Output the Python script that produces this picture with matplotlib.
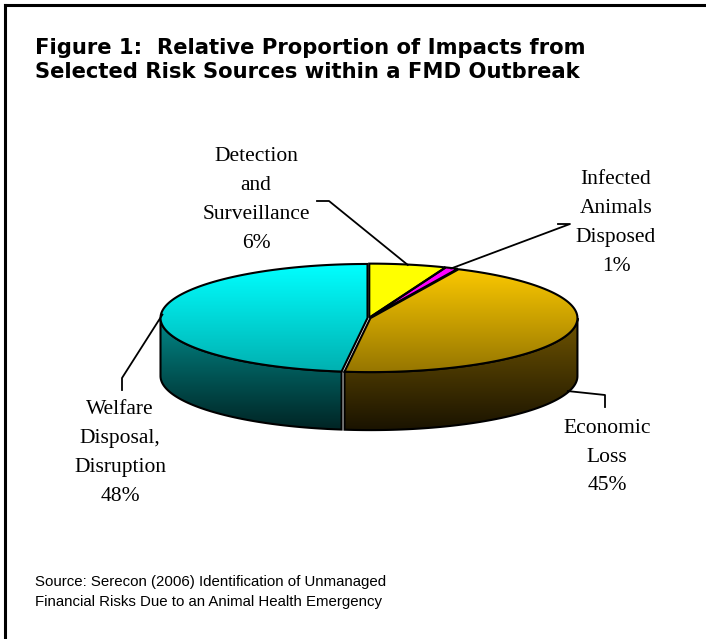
import numpy as np
import matplotlib
matplotlib.use("Agg")
import matplotlib.pyplot as plt
from matplotlib.patches import Polygon
from matplotlib.colors import LinearSegmentedColormap

# data, starting at 12 o'clock going clockwise
labels = ["Detection\nand\nSurveillance", "Infected\nAnimals\nDisposed",
          "Economic\nLoss", "Welfare\nDisposal,\nDisruption"]
values = [6, 1, 45, 48]

top_cols = [("#ffff00", "#ffff00"), ("#ff00ff", "#ff00ff"),
            ("#ffcc00", "#967600"), ("#00ffff", "#00b0b0")]
side_cols = [("#8a8a00", "#303000"), ("#800080", "#300030"),
             ("#705500", "#1a1300"), ("#008888", "#002424")]

W, H = 706, 639
fig = plt.figure(figsize=(W / 100, H / 100), dpi=100)
ax = fig.add_axes([0, 0, 1, 1])

cx, cy, a, b, depth = 369, 318, 207, 54, 58
explode = 1.5


def pt(t, dx=0, dy=0):
    r = np.radians(t)
    return cx + dx + a * np.sin(r), cy + dy - b * np.cos(r)


def grad_fill(poly, c0, c1, y0, y1):
    cmap = LinearSegmentedColormap.from_list("g", [c0, c1])
    g = np.linspace(0, 1, 256).reshape(-1, 1)
    im = ax.imshow(g, cmap=cmap, extent=(0, W, y1, y0), aspect="auto",
                   interpolation="bilinear", zorder=poly.get_zorder())
    im.set_clip_path(poly)


total = sum(values)
bounds = np.cumsum([0] + values) / total * 360
mids = []
for i, v in enumerate(values):
    t0, t1 = bounds[i], bounds[i + 1]
    tm = (t0 + t1) / 2
    mids.append(tm)
    ex = explode * np.sin(np.radians(tm))
    ey = -explode * np.cos(np.radians(tm)) * b / a
    # side wall (front half only)
    s0, s1 = max(t0, 90), min(t1, 270)
    if s1 > s0:
        ts = np.linspace(s0, s1, 80)
        up = [pt(t, ex, ey) for t in ts]
        dn = [pt(t, ex, ey + depth) for t in ts[::-1]]
        side = Polygon(up + dn, closed=True, facecolor="none",
                       edgecolor="none", zorder=3)
        ax.add_patch(side)
        grad_fill(side, side_cols[i][0], side_cols[i][1],
                  cy + ey, cy + b + depth + ey)
        ax.add_patch(Polygon(up + dn, closed=True, facecolor="none",
                             edgecolor="black", lw=1.5, zorder=4))
    # top face
    ts = np.linspace(t0, t1, max(int(t1 - t0) * 2, 4))
    pts = [(cx + ex, cy + ey)] + [pt(t, ex, ey) for t in ts]
    top = Polygon(pts, closed=True, facecolor="none", edgecolor="none",
                  zorder=5)
    ax.add_patch(top)
    grad_fill(top, top_cols[i][0], top_cols[i][1], cy - b + ey, cy + b + ey)
    ax.add_patch(Polygon(pts, closed=True, facecolor="none",
                         edgecolor="black", lw=1.5, zorder=6))

# leader lines and labels
serif = dict(family="Liberation Serif", fontsize=15.5, ha="center",
             va="center", linespacing=1.7)
anchors = [pt(mids[0]), pt(mids[1]), pt(mids[2], dy=depth), pt(mids[3])]
elbows = [[(329, 201), (317, 201)], [(570, 224), (558, 224)],
          [(605, 395), (605, 407)], [(122, 378), (122, 390)]]
for anc, el in zip(anchors, elbows):
    xs = [anc[0]] + [p[0] for p in el]
    ys = [anc[1]] + [p[1] for p in el]
    ax.plot(xs, ys, color="black", lw=1.3, zorder=7)

lab_pos = [(256, 200), (616, 223), (607, 457), (120, 453)]
for lab, v, (x, y) in zip(labels, values, lab_pos):
    ax.text(x, y, f"{lab}\n{v}%", zorder=8, **serif)

# title and source
ax.text(35, 60, "Figure 1:  Relative Proportion of Impacts from\n"
        "Selected Risk Sources within a FMD Outbreak",
        family="DejaVu Sans", fontweight="bold", fontsize=15.2,
        ha="left", va="center", linespacing=1.3)
ax.text(35, 592, "Source: Serecon (2006) Identification of Unmanaged\n"
        "Financial Risks Due to an Animal Health Emergency",
        family="Liberation Sans", fontsize=10.8, ha="left", va="center",
        linespacing=1.6)

# frame (cropped box: top and left edges)
ax.plot([5, W], [5, 5], color="black", lw=2.2, zorder=9)
ax.plot([5, 5], [5, H], color="black", lw=2.2, zorder=9)

ax.set_xlim(0, W)
ax.set_ylim(H, 0)
ax.set_aspect("auto")
ax.axis("off")
fig.savefig("out.png", dpi=100)
